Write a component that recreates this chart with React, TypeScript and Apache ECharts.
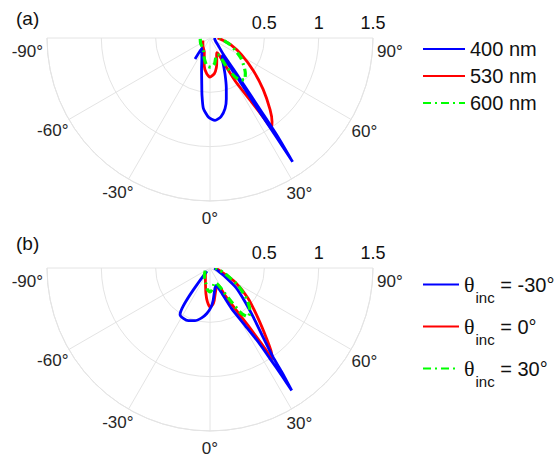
import React, { useEffect, useRef } from 'react';
import * as echarts from 'echarts';

// ---------- data ----------
const angleRange = [-90, 90];
const angleStep = 30;
const radiusMax = 1.5;
const radiusStep = 0.5;

const namesA = ['400 nm', '530 nm', '600 nm'];
const namesB = ['θinc = -30°', 'θinc = 0°', 'θinc = 30°'];
const incAngles = ['-30', '0', '30'];

// points are [radius, angle (deg)]
const a400: [number, number][] = [
  [0.237, -35.5], [0.12, -39], [0.15, -30], [0.2, -22], [0.3, -15], [0.41, -10.7], [0.53, -8],
  [0.65, -5.4], [0.73, -1], [0.76, 3.5], [0.73, 8], [0.665, 12], [0.58, 15], [0.48, 18.2],
  [0.36, 22.6], [0.27, 27], [0.22, 30.5], [0.2, 34], [0.45, 34.6], [0.85, 33.9], [1.1, 33.8],
  [1.37, 33.7], [1.1, 34.5], [0.85, 34.9], [0.45, 36.3], [0.19, 39.5], [0.1, 48], [0.06, 60], [0.04, 90],
];
const a530: [number, number][] = [
  [0.07, -70], [0.1, -40], [0.14, -22], [0.26, -11.8], [0.33, -5.3], [0.36, 0], [0.33, 7],
  [0.28, 12], [0.22, 16.5], [0.17, 21], [0.15, 25], [0.18, 28], [0.29, 29.2], [0.47, 30.5],
  [0.7, 33], [0.9, 34], [1.0, 34.2], [0.96, 36.5], [0.86, 40], [0.68, 46], [0.5, 53],
  [0.33, 62], [0.2, 72], [0.12, 80], [0.07, 90],
];
const a600: [number, number][] = [
  [0.09, -85], [0.1, -60], [0.11, -40], [0.14, -25], [0.2, -15], [0.26, -6], [0.27, 2],
  [0.24, 10], [0.19, 16], [0.165, 20], [0.17, 25], [0.19, 28.5], [0.3, 29.8], [0.425, 32.8],
  [0.475, 36], [0.5, 39.5], [0.46, 45], [0.41, 50], [0.34, 57], [0.26, 64], [0.19, 72],
  [0.13, 80], [0.09, 88],
];
const bm30: [number, number][] = [
  [0.04, -45], [0.51, -32.7], [0.524, -27.9], [0.524, -22.4], [0.504, -15.9], [0.465, -9.5],
  [0.42, -4], [0.36, 1.5], [0.3, 5.5], [0.235, 9.5], [0.19, 14], [0.17, 20], [0.225, 24],
  [0.424, 28], [0.618, 31.4], [0.813, 33.1], [1.0, 33.5], [1.2, 33.7], [1.355, 33.7],
  [1.17, 34.6], [1.0, 35.3], [0.8, 37.5], [0.6, 41.5], [0.45, 46], [0.3, 53], [0.16, 60],
  [0.08, 70], [0.04, 88],
];
const b0: [number, number][] = [
  [0.06, -45], [0.1, -25], [0.16, -15], [0.24, -9], [0.31, -4.5], [0.36, 0], [0.34, 4],
  [0.3, 7.5], [0.23, 12.5], [0.185, 19], [0.175, 25], [0.29, 28.8], [0.44, 31.6], [0.634, 33.5],
  [0.83, 34.2], [1.02, 34.4], [0.95, 36.3], [0.834, 38.7], [0.644, 43.6], [0.452, 51.3],
  [0.264, 60.8], [0.114, 71], [0.06, 85],
];
const b30: [number, number][] = [
  [0.05, -60], [0.08, -40], [0.12, -25], [0.15, -14], [0.2, -7], [0.22, 0], [0.2, 6],
  [0.16, 12], [0.14, 18], [0.16, 24], [0.2, 28], [0.26, 30], [0.37, 32.5], [0.51, 34.7],
  [0.57, 38], [0.54, 43], [0.44, 50], [0.3, 58.5], [0.15, 69], [0.08, 80], [0.05, 90],
];

const BLUE = '#0000ff';
const RED = '#ff0000';
const GREEN = '#00ff00';
const DASHDOT = [8, 4, 2, 4];

export default function App() {
  const ref = useRef<HTMLDivElement>(null);
  useEffect(() => {
    const chart = echarts.init(ref.current as HTMLDivElement, null, { renderer: 'svg' });
    const font = 'Liberation Sans, Arial, Helvetica, sans-serif';
    const gridColor = '#e4e4e4';
    const labelColor = '#262626';
    const R = 163;
    const centers = [[210, 38], [210, 268]];

    // per-label paddings [top, right, bottom, left] to place angle labels like the reference
    const labelPads = [
      [26, 14, 0, 0],
      [7.5, 9, 0, 0],
      [13.5, 0, 0, 0],
      [19, 0, 0, 0],
      [14, 0, 0, 0],
      [8, 0, 0, 9],
      [26, 0, 0, 14],
    ];
    const angleRich: Record<string, any> = {};
    labelPads.forEach((p, i) => {
      angleRich['L' + i] = { fontSize: 17, color: labelColor, fontFamily: font, padding: p };
    });

    const polar = [0, 1, 2, 3].map((i) => ({ center: centers[i % 2], radius: R }));

    const angleAxis = [0, 1, 2, 3].map((i) =>
      i < 2
        ? {
            polarIndex: i,
            type: 'value',
            min: angleRange[0],
            max: angleRange[1],
            interval: angleStep,
            startAngle: 180,
            endAngle: 360,
            clockwise: false,
            axisLine: { show: true, lineStyle: { color: gridColor, width: 1 } },
            axisTick: { show: false },
            splitLine: { show: true, lineStyle: { color: gridColor, width: 1 } },
            axisLabel: {
              show: true,
              margin: -10,
              fontSize: 17,
              color: labelColor,
              fontFamily: font,
              rich: angleRich,
              formatter: (v: number) => `{L${Math.round((v - angleRange[0]) / angleStep)}|${v}°}`,
            },
          }
        : {
            polarIndex: i,
            type: 'value',
            min: angleRange[0],
            max: angleRange[1],
            startAngle: 0,
            endAngle: -180,
            axisLine: { show: false },
            axisTick: { show: false },
            splitLine: { show: false },
            axisLabel: { show: false },
          }
    );

    const radiusAxis = [0, 1, 2, 3].map((i) => ({
      polarIndex: i,
      type: 'value',
      min: 0,
      max: radiusMax,
      interval: radiusStep,
      axisLine: { show: false },
      axisTick: { show: false },
      splitLine: { show: i < 2, lineStyle: { color: gridColor, width: 1 } },
      axisLabel: {
        show: i >= 2,
        margin: 6,
        fontSize: 18,
        color: '#111',
        fontFamily: font,
        showMinLabel: false,
        formatter: (v: number) => (v === 0 ? '' : String(v)),
      },
    }));

    const mk = (name: string, data: [number, number][], color: string, polarIndex: number, dash?: number[]) => ({
      type: 'line',
      name,
      coordinateSystem: 'polar',
      polarIndex,
      data,
      symbol: 'none',
      smooth: 0.2,
      lineStyle: { color, width: dash ? 3.2 : 2.8, type: dash || 'solid' },
      itemStyle: { color },
    });

    const option = {
      animation: false,
      backgroundColor: '#ffffff',
      textStyle: { fontFamily: font },
      title: [
        { text: '(a)', left: 16, top: 9, padding: 0, textStyle: { fontSize: 19, fontWeight: 'normal', color: '#111', fontFamily: font } },
        { text: '(b)', left: 16, top: 234, padding: 0, textStyle: { fontSize: 19, fontWeight: 'normal', color: '#111', fontFamily: font } },
      ],
      polar,
      angleAxis,
      radiusAxis,
      legend: [
        {
          data: namesA,
          orient: 'vertical',
          left: 422,
          top: 39,
          padding: 0,
          itemWidth: 42,
          itemHeight: 10,
          itemGap: 7,
          selectedMode: false,
          itemStyle: { opacity: 0 },
          textStyle: { fontSize: 20, lineHeight: 20, color: '#111', fontFamily: font },
        },
        {
          data: namesB,
          orient: 'vertical',
          left: 422,
          top: 264,
          padding: 0,
          itemWidth: 36,
          itemHeight: 10,
          itemGap: 1,
          selectedMode: false,
          itemStyle: { opacity: 0 },
          formatter: (name: string) => {
            const i = namesB.indexOf(name);
            return `{t|θ}{s|inc}{u| = ${incAngles[i]}°}`;
          },
          textStyle: {
            color: '#111',
            fontFamily: font,
            rich: {
              t: { fontSize: 22, lineHeight: 22, fontFamily: 'Liberation Serif, DejaVu Serif, serif', color: '#111' },
              s: { fontSize: 15, lineHeight: 15, padding: [26, 0, 0, 1], fontFamily: font, color: '#111' },
              u: { fontSize: 20, lineHeight: 22, fontFamily: font, color: '#111' },
            },
          },
        },
      ],
      series: [
        mk(namesA[1], a530, RED, 0),
        mk(namesA[0], a400, BLUE, 0),
        mk(namesA[2], a600, GREEN, 0, DASHDOT),
        mk(namesB[1], b0, RED, 1),
        mk(namesB[0], bm30, BLUE, 1),
        mk(namesB[2], b30, GREEN, 1, DASHDOT),
      ],
    };

    chart.setOption(option as any);
    return () => chart.dispose();
  }, []);

  return (
    <div
      ref={ref}
      style={{ position: 'fixed', left: 0, top: 0, width: 558, height: 458, background: '#fff' }}
    />
  );
}
